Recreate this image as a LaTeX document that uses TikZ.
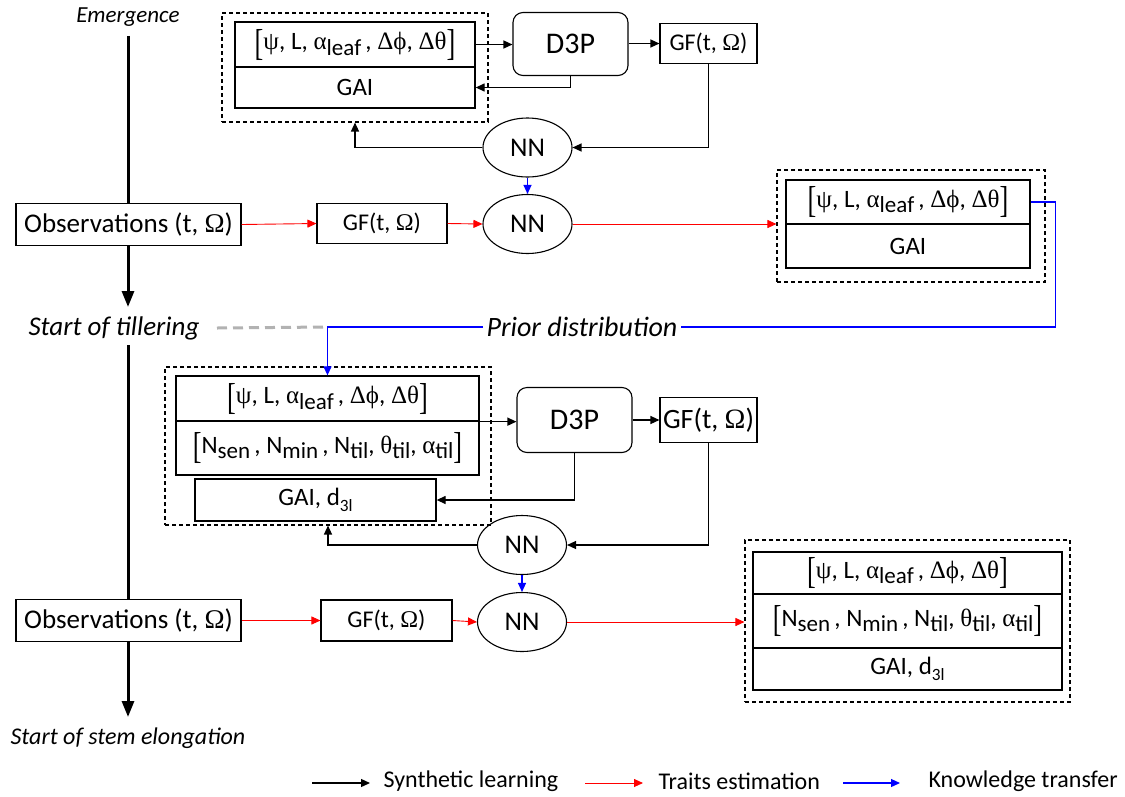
\documentclass[tikz,border=0pt]{standalone}
\usepackage{fontspec}
\usepackage{graphicx}
\setmainfont{Carlito}
\newfontfamily\grk{Liberation Serif}
\usetikzlibrary{arrows.meta,shapes.geometric}
\newcommand\gk[1]{{\grk #1}}
\newcommand\sbx[1]{\raisebox{-0.45ex}{\scalebox{0.92}{#1}}}
\newcommand\lbr{\raisebox{-0.42ex}{\scalebox{1.05}[1.5]{\grk [}}}
\newcommand\rbr{\raisebox{-0.42ex}{\scalebox{1.05}[1.5]{\grk ]}}}
\newcommand\rowA{\lbr\gk{ψ}, L, \gk{α}\sbx{leaf}\,, \gk{Δϕ}, \gk{Δθ}\rbr}
\newcommand\rowB{\lbr N\sbx{sen}\,, N\sbx{min}\,, N\sbx{til}, \gk{θ}\sbx{til}, \gk{α}\sbx{til}\rbr}
\newcommand\gaid{GAI, d\sbx{\scalebox{0.75}{3l}}}
\tikzset{
  tbl/.style={draw, line width=1.3pt, inner sep=0pt},
  fa/.style={font=\fontsize{25}{25}\selectfont},
  fb/.style={font=\fontsize{25}{25}\selectfont},
  fg/.style={font=\fontsize{25}{25}\selectfont},
  dbox/.style={draw, line width=1.1pt, inner sep=0pt, dash pattern=on 4pt off 3pt},
  rbox/.style={draw, line width=1.1pt, inner sep=0pt, fill=white},
  nnode/.style={draw, ellipse, line width=1.1pt, inner sep=0pt, minimum width=89, minimum height=59, font=\fontsize{27}{27}\selectfont},
  dthree/.style={draw, rounded corners=10pt, line width=1.1pt, inner sep=0pt, font=\fontsize{30}{30}\selectfont},
  obsbox/.style={draw, line width=1.3pt, fill=white, inner sep=0pt, minimum width=225, minimum height=42, font=\fontsize{27}{27}\selectfont},
  legtxt/.style={anchor=west, font=\fontsize{24}{24}\selectfont},
  syn/.style={-{Triangle[length=9pt,width=8pt]}, line width=1.3pt},
  est/.style={red, -{Triangle[length=9pt,width=8pt]}, line width=0.9pt},
  kt/.style={blue, -{Triangle[length=9pt,width=8pt]}, line width=1.2pt},
  ktline/.style={blue, line width=1.2pt},
  tline/.style={line width=3pt, -{Triangle[length=16pt,width=12pt]}},
}
\begin{document}
\begin{tikzpicture}[x=1pt,y=-1pt]
\useasboundingbox (0,0) rectangle (1125,796);

% timeline
\node[font=\fontsize{23}{23}\selectfont\itshape] (em) at (128,17) {Emergence};
\coordinate (t1) at (128,307);
\draw[tline, shorten <=6pt] (em.south) -- (t1);
\node[font=\fontsize{27}{27}\selectfont\itshape] (till) at (114,328) {Start of tillering};
\coordinate (t2) at (128,717);
\draw[tline, shorten <=2pt] (t2 |- till.south) -- (t2);
\node[font=\fontsize{24}{24}\selectfont\itshape] (stem) at (128,738) {Start of stem elongation};

% top section
\node[dbox, minimum width=266, minimum height=109] (dA) at (355,67.5) {};
\node[tbl, fa, minimum width=240, minimum height=45] (a1) at (355,44.5) {\rowA};
\node[tbl, fg, minimum width=240, minimum height=41] (a2) at (355,87.5) {GAI};
\node[dthree, minimum width=115, minimum height=63] (p1) at (570.5,44) {D3P};
\node[rbox, minimum width=97, minimum height=40, font=\fontsize{24}{24}\selectfont] (g1) at (708.5,43.5) {GF(t, \gk{Ω})};
\node[nnode] (n1) at (527.5,147.5) {NN};
\node[nnode] (n2) at (527.5,224) {NN};
\node[obsbox] (o1) at (128.5,224.5) {Observations (t, \gk{Ω})};
\node[rbox, minimum width=130, minimum height=40, font=\fontsize{24}{24}\selectfont] (g2) at (382,223.5) {GF(t, \gk{Ω})};
\node[dbox, minimum width=268, minimum height=112] (dB) at (911,226) {};
\node[tbl, fa, minimum width=244, minimum height=44] (b1) at (908,202) {\rowA};
\node[tbl, fg, minimum width=244, minimum height=44] (b2) at (908,246) {GAI};

\draw[syn] (a1.east) -- (p1.west |- a1.east);
\draw[syn] (p1.east |- g1.west) -- (g1.west);
\draw[syn] (p1.south) |- (a2.east);
\draw[syn] (g1.south) |- (n1.east);
\draw[syn] (n1.west) -| (dA.south);
\draw[kt] (n1.south) -- (n2.north);
\draw[est] (o1.east) -- (g2.west);
\draw[est] (g2.east) -- (n2.west);
\draw[est] (n2.east) -- (dB.west |- n2.east);

% prior distribution
\node[font=\fontsize{28}{28}\selectfont\itshape] (prior) at (582,327) {Prior distribution};

% middle section
\node[dbox, minimum width=326, minimum height=158] (dC) at (328,446) {};
\node[tbl, fa, minimum width=303, minimum height=45] (m1) at (327.5,398.5) {\rowA};
\node[tbl, fb, minimum width=303, minimum height=54] (m2) at (327.5,448) {\rowB};
\node[tbl, fg, minimum width=241, minimum height=42] (m3) at (315.5,500) {\gaid};
\node[dthree, minimum width=115, minimum height=65] (p2) at (574.5,420) {D3P};
\node[rbox, minimum width=97, minimum height=45, font=\fontsize{28}{28}\selectfont] (g3) at (708.5,420) {GF(t, \gk{Ω})};
\node[nnode] (n3) at (522,545) {NN};
\node[nnode] (n4) at (522,622) {NN};
\node[obsbox] (o2) at (128.5,620.5) {Observations (t, \gk{Ω})};
\node[rbox, minimum width=131, minimum height=41, font=\fontsize{24}{24}\selectfont] (g4) at (386.5,620.5) {GF(t, \gk{Ω})};

\coordinate (c1) at (m1.north |- prior.west);
\draw[gray!60, line width=3pt, dash pattern=on 10pt off 6pt] (217,328) coordinate (gs) -- (c1);
\draw[ktline] (b1.east) -- ++(25,0) |- (prior.east);
\draw[kt] (prior.west) -- (c1) -- (m1.north);

\draw[syn] (m1.south east) -- (p2.west |- m1.south east);
\draw[syn] (p2.east) -- (g3.west);
\draw[syn] (p2.south) |- (m3.east);
\draw[syn] (g3.south) |- (n3.east);
\draw[syn] (n3.west) -| (dC.south);
\draw[kt] (n3.south) -- (n4.north);
\draw[est] (o2.east) -- (g4.west);
\draw[est] (g4.east) -- (n4.west);

% bottom right
\node[dbox, minimum width=325, minimum height=162] (dD) at (907.5,621) {};
\node[tbl, fa, minimum width=309, minimum height=42] (e1) at (907.5,573) {\rowA};
\node[tbl, fb, minimum width=309, minimum height=54] (e2) at (907.5,621) {\rowB};
\node[tbl, fg, minimum width=309, minimum height=42] (e3) at (907.5,669) {\gaid};
\draw[est] (n4.east) -- (dD.west |- n4.east);

% legend
\coordinate (l1a) at (312,783); \coordinate (l1b) at (370,783);
\draw[syn] (l1a) -- (l1b);
\node[legtxt] (l1t) at (380,781) {Synthetic learning};
\coordinate (l2a) at (585,783); \coordinate (l2b) at (643,783);
\draw[est] (l2a) -- (l2b);
\node[legtxt] (l2t) at (655,781) {Traits estimation};
\coordinate (l3a) at (843,783); \coordinate (l3b) at (900,783);
\draw[kt] (l3a) -- (l3b);
\node[legtxt] (l3t) at (925,781) {Knowledge transfer};
\end{tikzpicture}
\end{document}
